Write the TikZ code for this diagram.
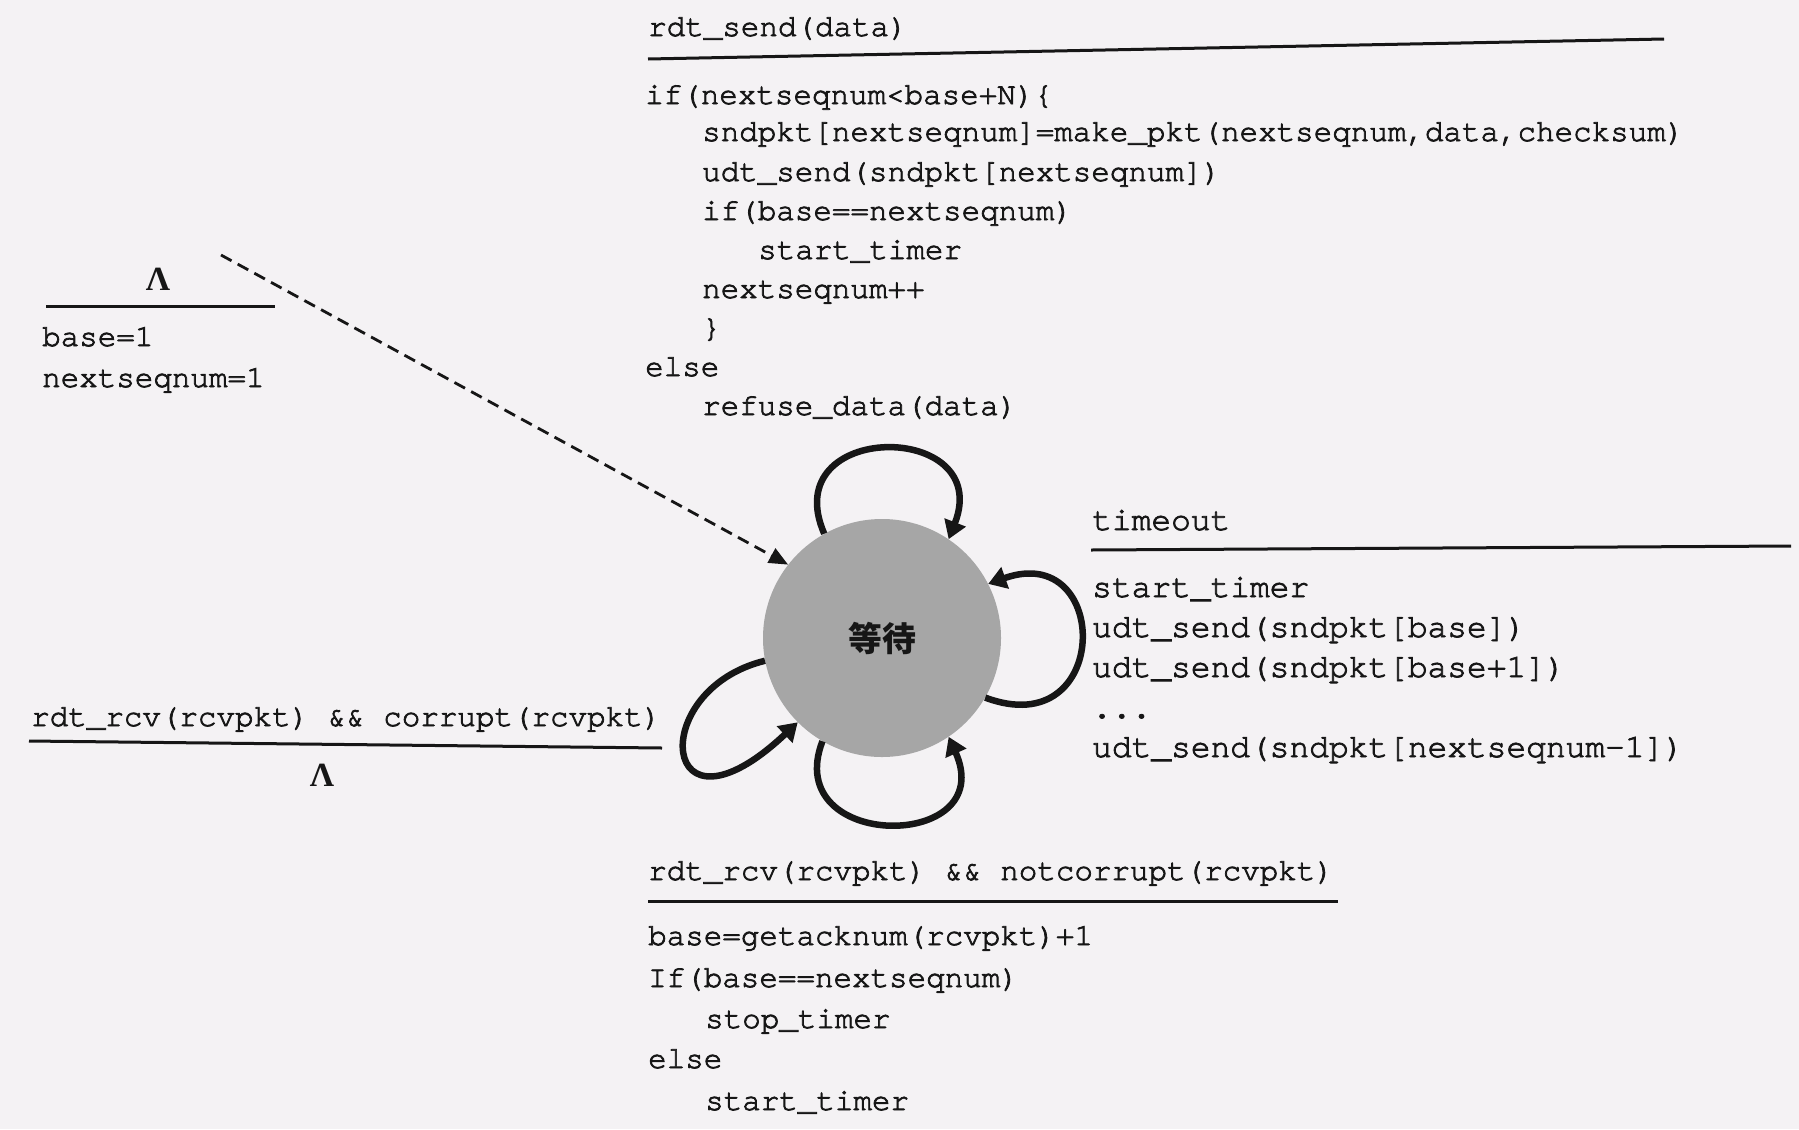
\documentclass[tikz,border=0pt]{standalone}
\usepackage{fontspec}
\newfontfamily\codefont[FakeBold=2.4]{TeX Gyre Cursor}
\newfontfamily\lamfont{Liberation Serif}
\newfontfamily\cjkfont{Noto Sans CJK SC}
\usetikzlibrary{arrows.meta}
\definecolor{paper}{RGB}{244,242,244}
\definecolor{ink}{RGB}{22,22,22}
\definecolor{statefill}{RGB}{166,166,166}
\begin{document}
\begin{tikzpicture}[x=1bp,y=-1bp,
  code/.style={font=\codefont\fontsize{31}{36}\selectfont, text=ink, anchor=base west, inner sep=0pt, text height=19bp, text depth=5bp},
  topcode/.style={code},
  coder/.style={font=\codefont\fontsize{33}{38}\selectfont, text=ink, anchor=base west, inner sep=0pt, text height=20bp, text depth=5bp},
  lambda/.style={font=\lamfont\bfseries\fontsize{34}{34}\selectfont, text=ink, anchor=base, inner sep=0pt},
  rule/.style={draw=ink, line width=3bp},
  selfloop/.style={draw=ink, line width=6.5bp, -{Triangle[length=18bp,width=22bp]}},
  initarrow/.style={draw=ink, line width=2.8bp, dash pattern=on 12bp off 7bp, -{Triangle[length=19bp,width=16bp]}},
  state/.style={circle, fill=statefill, minimum size=238bp, inner sep=0pt, text=ink, font=\cjkfont\bfseries\fontsize{34}{34}\selectfont}]
\fill[paper] (0,0) rectangle (1799,1129);
\useasboundingbox (0,0) rectangle (1799,1129);

% state
\node[state] (wait) at (882,638) {等待};

% initial transition
\coordinate (init) at (221,255);
\node[lambda] (lam1) at (158,290) {Λ};
\draw[rule] (46,306) -- (275,306);
\node[code] (i1) at (42,346) {base=1};
\node[code] (i2) at (42,387) {nextseqnum=1};
\draw[initarrow] (init) -- (wait.142.5);

% top transition (rdt_send)
\node[topcode] (ev1) at (648,36) {rdt\_send(data)};
\draw[rule] (648,59) -- (1664,39);
\node[topcode] (a1) at (645,104) {if(nextseqnum<base+N)\{};
\node[topcode] (a2) at (702,141) {sndpkt[nextseqnum]=make\_pkt(nextseqnum,data,checksum)};
\node[topcode] (a3) at (702,181) {udt\_send(sndpkt[nextseqnum])};
\node[topcode] (a4) at (702,220) {if(base==nextseqnum)};
\node[topcode] (a5) at (758,259) {start\_timer};
\node[topcode] (a6) at (702,298) {nextseqnum++};
\node[topcode] (a7) at (702,337) {\}};
\node[topcode] (a8) at (645,376) {else};
\node[topcode] (a9) at (702,415) {refuse\_data(data)};

% left transition (corrupt)
\node[code] (ev2) at (31,726) {rdt\_rcv(rcvpkt) \&\& corrupt(rcvpkt)};
\draw[rule] (29,741) -- (662,748);
\node[lambda] (lam2) at (322,786) {Λ};

% right transition (timeout)
\node[coder] (ev3) at (1092,530) {timeout};
\draw[rule] (1091,550) -- (1791,546);
\node[coder] (b1) at (1092,597) {start\_timer};
\node[coder] (b2) at (1092,637) {udt\_send(sndpkt[base])};
\node[coder] (b3) at (1092,677) {udt\_send(sndpkt[base+1])};
\node[coder] (b4) at (1092,718) {...};
\node[coder] (b5) at (1092,757) {udt\_send(sndpkt[nextseqnum-1])};

% bottom transition (notcorrupt)
\node[code] (ev4) at (648,880) {rdt\_rcv(rcvpkt) \&\& notcorrupt(rcvpkt)};
\draw[rule] (648,901) -- (1338,901);
\node[code] (c1) at (648,945) {base=getacknum(rcvpkt)+1};
\node[code] (c2) at (648,987) {If(base==nextseqnum)};
\node[code] (c3) at (705,1028) {stop\_timer};
\node[code] (c4) at (648,1068) {else};
\node[code] (c5) at (705,1110) {start\_timer};

% self loops
\draw[selfloop] (wait.119) .. controls (775,420) and (995,420) .. (wait.56);
\draw[selfloop] (wait.-30) .. controls (1112,745) and (1112,540) .. (wait.27);
\draw[selfloop] (wait.-120) .. controls (780,852) and (1000,852) .. (wait.-56);
\draw[selfloop] (wait.-169) .. controls (645,690) and (660,852) .. (wait.-135);
\end{tikzpicture}
\end{document}
